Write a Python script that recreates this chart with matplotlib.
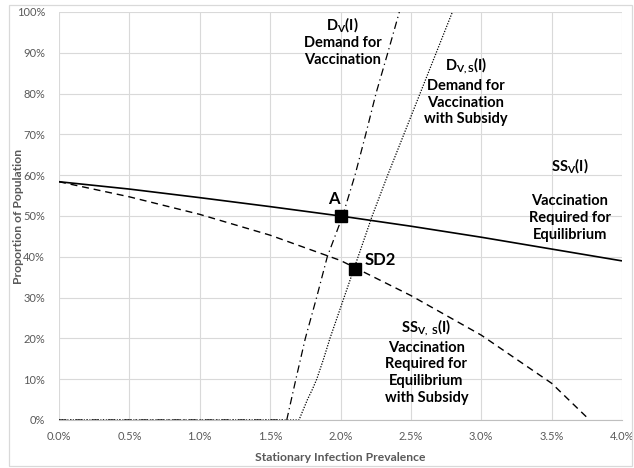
import matplotlib
matplotlib.use("Agg")
import matplotlib.pyplot as plt
from matplotlib.patches import Rectangle

# ---- data (percent units) ----
ss_x = [0.0, 0.5, 1.0, 1.5, 2.0, 2.5, 3.0, 3.5, 4.0]
ss_y = [58.4, 56.6, 54.5, 52.3, 50.0, 47.5, 44.8, 41.9, 39.0]

sss_x = [0.0, 0.5, 1.0, 1.5, 2.0, 2.5, 3.0, 3.5, 3.77]
sss_y = [58.4, 54.7, 50.4, 45.3, 39.1, 30.5, 20.8, 9.0, 0.0]

dv_x = [0.0, 1.618, 1.683, 1.75, 1.83, 1.906, 2.015, 2.103, 2.179, 2.252, 2.336, 2.418]
dv_y = [0, 0, 10, 20, 30, 40, 50, 60, 70, 80, 90, 100]

dvs_x = [0.0, 1.705, 1.735, 1.765, 1.80, 1.831, 1.88, 1.925, 2.025, 2.125, 2.225, 2.335, 2.45, 2.565, 2.68, 2.795]
dvs_y = [0, 0, 2.5, 5, 7.5, 10, 15, 20, 30, 40, 50, 60, 70, 80, 90, 100]

pts_x = [2.0, 2.1]
pts_y = [50.0, 37.1]
pts_lab = ["A", "SD2"]

x_ticks = [0, 0.5, 1.0, 1.5, 2.0, 2.5, 3.0, 3.5, 4.0]
y_ticks = [0, 10, 20, 30, 40, 50, 60, 70, 80, 90, 100]

# ---- style ----
plt.rcParams['font.family'] = ['Lato', 'DejaVu Sans']
plt.rcParams['mathtext.fontset'] = 'custom'
plt.rcParams['mathtext.rm'] = 'Lato:bold'
plt.rcParams['mathtext.it'] = 'Lato:bold'
plt.rcParams['mathtext.bf'] = 'Lato:bold'

grey = '#595959'
grid_c = '#D9D9D9'

fig = plt.figure(figsize=(6.34, 4.68), dpi=100)
ax = fig.add_axes([59/634, 48/468, 563/634, 408/468])

# chart area border
fig.patches.append(Rectangle((9/634, 2/468), 623/634, 461/468, transform=fig.transFigure,
                             fill=False, edgecolor=grid_c, linewidth=0.9))

ax.plot(ss_x, ss_y, color='black', lw=1.2, solid_capstyle='butt')
ax.plot(sss_x, sss_y, color='black', lw=1.0, linestyle=(0, (5, 3.5)))
ax.plot(dv_x, dv_y, color='black', lw=0.9, linestyle=(0, (6, 3, 1, 3)))
ax.plot(dvs_x, dvs_y, color='black', lw=0.9, linestyle=(0, (1, 1.2)))
ax.plot(pts_x, pts_y, linestyle='none', marker='s', markersize=9, color='black')

ax.text(pts_x[0] - 0.05, pts_y[0] + 4.2, pts_lab[0], fontsize=12, fontweight='bold',
        ha='center', va='center')
ax.text(pts_x[1] + 0.07, pts_y[1] + 2.0, pts_lab[1], fontsize=12, fontweight='bold',
        ha='left', va='center')

lab = dict(fontsize=10.5, fontweight='bold', ha='center', va='center', linespacing=1.25)
ax.text(2.016, 92.9, "D$_\\mathrm{V}$(I)\nDemand for\nVaccination", **lab)
ax.text(2.89, 80.6, "D$_\\mathrm{V,S}$(I)\nDemand for\nVaccination\nwith Subsidy", **lab)
ax.text(3.63, 54.2, "SS$_\\mathrm{V}$(I)\n\nVaccination\nRequired for\nEquilibrium", **lab)
ax.text(2.61, 14.4, "SS$_\\mathrm{V,\\ S}$(I)\nVaccination\nRequired for\nEquilibrium\nwith Subsidy", **lab)

ax.set_xlim(0, 4.0)
ax.set_ylim(0, 100)
ax.set_xticks(x_ticks)
ax.set_xticklabels([f"{v:.1f}%" for v in x_ticks])
ax.set_yticks(y_ticks)
ax.set_yticklabels([f"{v}%" for v in y_ticks])
ax.tick_params(length=0, labelsize=8, colors=grey, pad=10)
ax.tick_params(axis='x', pad=8)
ax.grid(True, color=grid_c, lw=0.8)
ax.set_axisbelow(True)
for s in ['top', 'right', 'left']:
    ax.spines[s].set_visible(False)
ax.spines['bottom'].set_color('#BFBFBF')
ax.spines['bottom'].set_linewidth(0.8)

ax.set_xlabel("Stationary Infection Prevalence", fontsize=8.7, fontweight='bold', color=grey)
ax.set_ylabel("Proportion of Population", fontsize=8.7, fontweight='bold', color=grey)
ax.xaxis.set_label_coords(0.499, -32/408)
ax.yaxis.set_label_coords(-35/563, 0.5)

fig.savefig("out.png", dpi=100)
